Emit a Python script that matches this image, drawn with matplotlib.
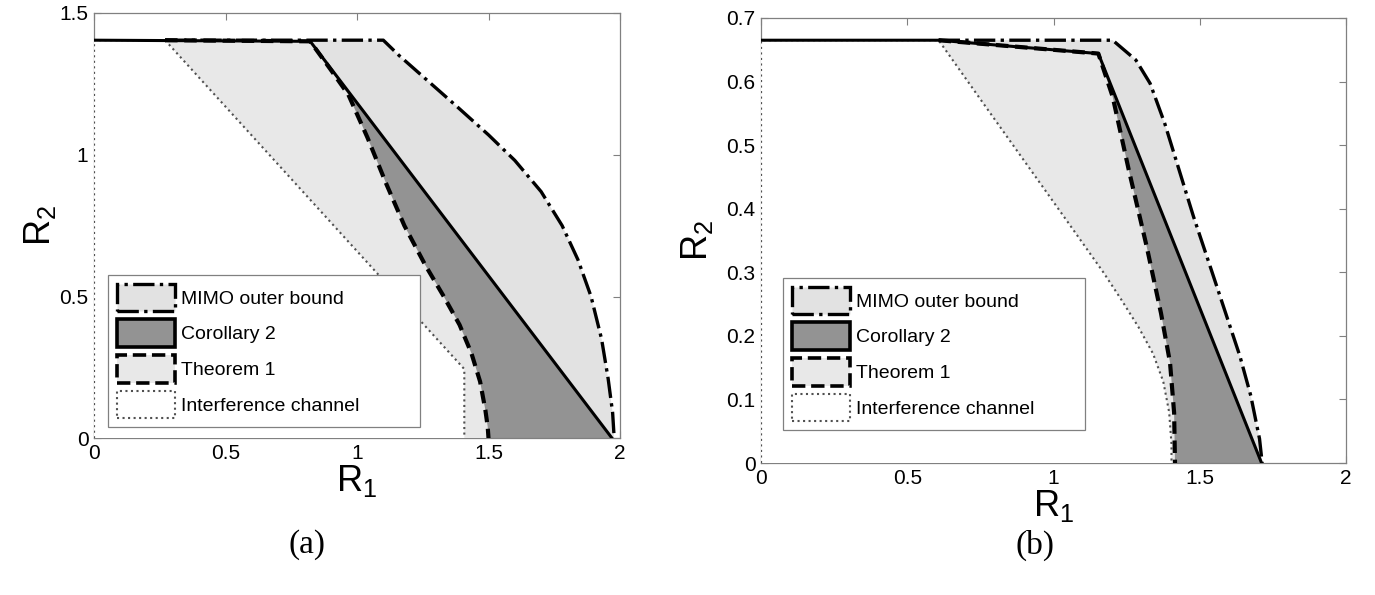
import matplotlib
matplotlib.use("Agg")
import matplotlib.pyplot as plt
from matplotlib.patches import Patch

plt.rcParams['font.family'] = ['Liberation Sans', 'DejaVu Sans']
plt.rcParams['mathtext.default'] = 'regular'

# ---- panel (a) boundaries (R1, R2) ----
a_ic_r1 = [0, 0, 0.27, 1.408, 1.408]
a_ic_r2 = [0, 1.404, 1.404, 0.244, 0]
a_th_r1 = [0, 0.27, 0.822, 0.90, 0.967, 1.04, 1.11, 1.18, 1.26, 1.33, 1.39, 1.435, 1.468, 1.488, 1.497, 1.5]
a_th_r2 = [1.404, 1.404, 1.40, 1.30, 1.212, 1.06, 0.90, 0.75, 0.61, 0.50, 0.40, 0.30, 0.20, 0.10, 0.04, 0]
a_co_r1 = [0, 0.822, 1.97]
a_co_r2 = [1.404, 1.40, 0]
a_mi_r1 = [0, 0.27, 1.10, 1.16, 1.27, 1.38, 1.50, 1.60, 1.70, 1.78, 1.84, 1.89, 1.93, 1.955, 1.972, 1.978]
a_mi_r2 = [1.404, 1.404, 1.404, 1.35, 1.26, 1.17, 1.07, 0.98, 0.87, 0.75, 0.63, 0.50, 0.35, 0.21, 0.09, 0]

# ---- panel (b) boundaries ----
b_ic_r1 = [0, 0, 0.607, 0.75, 0.90, 1.05, 1.17, 1.23, 1.29, 1.34, 1.375, 1.395, 1.403, 1.403]
b_ic_r2 = [0, 0.665, 0.665, 0.572, 0.475, 0.378, 0.300, 0.258, 0.214, 0.172, 0.128, 0.080, 0.03, 0]
b_th_r1 = [0, 0.607, 1.153, 1.202, 1.257, 1.318, 1.367, 1.398, 1.412, 1.415]
b_th_r2 = [0.665, 0.665, 0.644, 0.576, 0.461, 0.341, 0.236, 0.158, 0.079, 0]
b_co_r1 = [0, 0.607, 1.153, 1.711]
b_co_r2 = [0.665, 0.665, 0.644, 0]
b_mi_r1 = [0, 0.607, 1.202, 1.281, 1.330, 1.380, 1.429, 1.478, 1.539, 1.588, 1.637, 1.674, 1.704, 1.713]
b_mi_r2 = [0.665, 0.665, 0.665, 0.634, 0.597, 0.534, 0.461, 0.388, 0.304, 0.236, 0.168, 0.106, 0.038, 0]

a_xticks = [0, 0.5, 1, 1.5, 2]
a_yticks = [0, 0.5, 1, 1.5]
b_xticks = [0, 0.5, 1, 1.5, 2]
b_yticks = [0, 0.1, 0.2, 0.3, 0.4, 0.5, 0.6, 0.7]

labels = ['MIMO outer bound', 'Corollary 2', 'Theorem 1', 'Interference channel']

LIGHT_MIMO = '#e2e2e2'
LIGHT_TH = '#e8e8e8'
DARK = '#939393'
SPINE = '#808080'
DOTS = '#505050'


def closed(r1, r2):
    # close the region down to the axes
    return [0] + list(r1) + [0], [0] + list(r2) + [0]


def draw_panel(ax, ic, th, co, mi, xticks, yticks, ylim, start):
    # fills, back to front
    ax.fill(*closed(*mi), color=LIGHT_MIMO, lw=0, zorder=1)
    ax.fill(*closed(*co), color=DARK, lw=0, zorder=2)
    ax.fill(*closed(*th), color=LIGHT_TH, lw=0, zorder=3)
    ax.fill(*ic, color='white', lw=0, zorder=4)

    # outlines
    ax.plot(ic[0], ic[1], ls=':', color=DOTS, lw=1.5, zorder=5)
    ax.plot(co[0], co[1], ls='-', color='black', lw=2.2, zorder=6)
    ax.plot(th[0][start:], th[1][start:], ls='--', color='black', lw=3,
            dashes=(3, 1.6), zorder=7)
    ax.plot(mi[0][start:], mi[1][start:], ls='-.', color='black', lw=2.4,
            zorder=7)

    ax.set_xlim(0, 2)
    ax.set_ylim(0, ylim)
    ax.set_xticks(xticks)
    ax.set_xticklabels([f'{t:g}' for t in xticks])
    ax.set_yticks(yticks)
    ax.set_yticklabels([f'{t:g}' for t in yticks])
    ax.tick_params(direction='in', top=True, right=True, length=5,
                   color=SPINE, labelsize=15, pad=4)
    for s in ax.spines.values():
        s.set_color(SPINE)
        s.set_linewidth(0.9)
    ax.set_xlabel('$R_1$', fontsize=26, labelpad=0)


def add_legend(ax, box):
    handles = [
        Patch(facecolor=LIGHT_MIMO, edgecolor='black', linestyle='-.', lw=2.4),
        Patch(facecolor=DARK, edgecolor='black', linestyle='-', lw=2.6),
        Patch(facecolor=LIGHT_TH, edgecolor='black', linestyle='--', lw=2.6),
        Patch(facecolor='white', edgecolor=DOTS, linestyle=':', lw=1.5),
    ]
    leg = ax.legend(handles, labels, loc='lower left', bbox_to_anchor=box,
                    mode='expand', borderaxespad=0, fontsize=14,
                    handlelength=3.0, handleheight=1.8, labelspacing=0.42,
                    handletextpad=0.3, borderpad=0.45, fancybox=False,
                    framealpha=1)
    leg.get_frame().set_edgecolor(SPINE)
    leg.get_frame().set_linewidth(0.9)
    leg.set_zorder(10)


fig = plt.figure(figsize=(13.75, 5.95), dpi=100)
ax_a = fig.add_axes([0.0684, 0.2634, 0.3825, 0.7148])
ax_b = fig.add_axes([0.5535, 0.2218, 0.4255, 0.748])

draw_panel(ax_a, (a_ic_r1, a_ic_r2), (a_th_r1, a_th_r2), (a_co_r1, a_co_r2),
           (a_mi_r1, a_mi_r2), a_xticks, a_yticks, 1.5, 1)
draw_panel(ax_b, (b_ic_r1, b_ic_r2), (b_th_r1, b_th_r2), (b_co_r1, b_co_r2),
           (b_mi_r1, b_mi_r2), b_xticks, b_yticks, 0.7, 1)
ax_a.set_ylabel('$R_2$', fontsize=26, labelpad=1)
ax_b.set_ylabel('$R_2$', fontsize=26, labelpad=8)

add_legend(ax_a, (0.0266, 0.0266, 0.593, 0.37))
add_legend(ax_b, (0.0376, 0.074, 0.516, 0.355))

fig.text(307 / 1375, 1 - 545 / 595, '(a)', family='Liberation Serif',
         fontsize=24, ha='center', va='center')
fig.text(1035 / 1375, 1 - 545 / 595, '(b)', family='Liberation Serif',
         fontsize=24, ha='center', va='center')

fig.savefig('out.png', dpi=100)
